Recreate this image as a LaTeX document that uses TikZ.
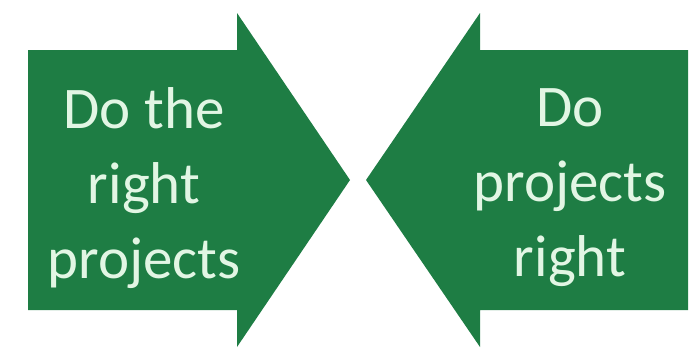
\documentclass[tikz,border=0pt]{standalone}
\usepackage{fontspec}
\setmainfont{Carlito}
\definecolor{arrowgreen}{RGB}{30,125,68}
\definecolor{textmint}{RGB}{226,246,228}
\begin{document}
\begin{tikzpicture}[x = 1pt, y = -1pt,
        block/.style = {fill = arrowgreen},
        caption/.style = {text = textmint, align = center, inner sep = 0pt,
                          font = \fontsize{59}{75}\selectfont}]
            \useasboundingbox (0,0) rectangle (693,354);
            \fill[block] (28,50) -- (237,50) -- (237,13) -- (350,180) -- (237,347) -- (237,310) -- (28,310) -- cycle;
            \fill[block] (688,50) -- (480,50) -- (480,13) -- (366,180) -- (480,347) -- (480,310) -- (688,310) -- cycle;
            \node[caption] (left) at (144,188) {Do the\\right\\projects};
            \node[caption] (right) at (570,188) {Do\\projects\\right};
            \end{tikzpicture}
\end{document}
